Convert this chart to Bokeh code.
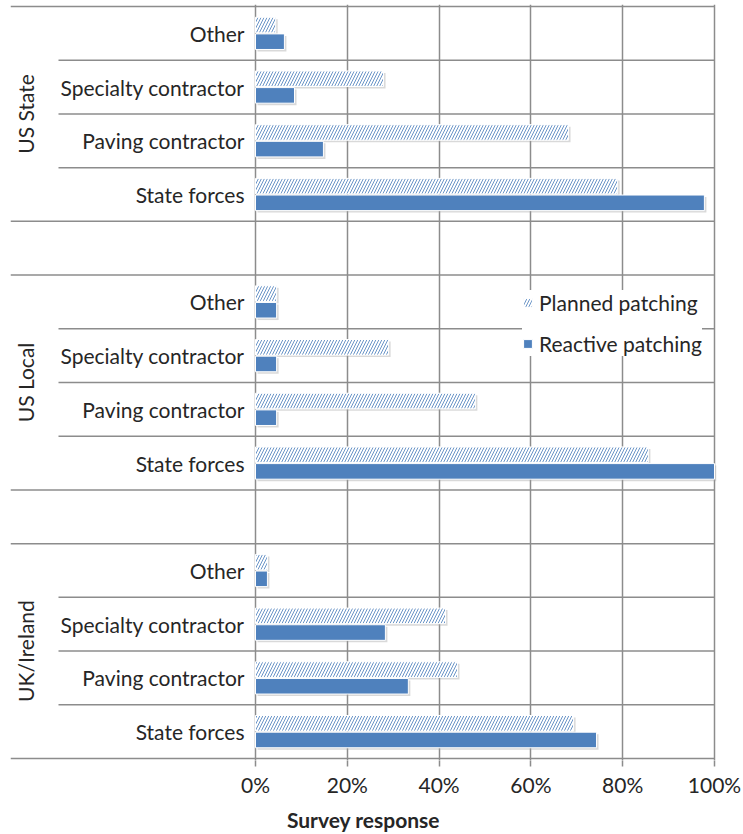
import math
from bokeh.plotting import figure
from bokeh.models import (Range1d, FixedTicker, PrintfTickFormatter, Legend,
                          LegendItem, ColumnDataSource)
from bokeh.core.properties import value
from bokeh.embed import file_html
from bokeh.resources import INLINE

# ---------------- data (percent of survey responses) ----------------
groups = ["US State", "US Local", "UK/Ireland"]
categories = ["Other", "Specialty contractor", "Paving contractor", "State forces"]

planned_us_state = [4.4, 27.9, 68.2, 78.9]
reactive_us_state = [6.3, 8.5, 14.8, 97.8]

planned_us_local = [4.6, 29.0, 47.9, 85.6]
reactive_us_local = [4.6, 4.6, 4.6, 100.0]

planned_uk_ireland = [2.6, 41.4, 44.0, 69.3]
reactive_uk_ireland = [2.6, 28.3, 33.3, 74.3]

x_ticks = [0, 20, 40, 60, 80, 100]

planned = [planned_us_state, planned_us_local, planned_uk_ireland]
reactive = [reactive_us_state, reactive_us_local, reactive_uk_ireland]

# ---------------- layout constants ----------------
FONT = "Lato"
FS = "21px"
TXT = "#262626"
BLUE = "#4F81BD"
GRID = "#8c8c8c"
PX_PER_PCT = 4.59          # pixels per percent
LEFT_PX = 245              # label area width (frame left -> 0%)
SHORT_PX = 197             # width of within-group separator in label area
ROW_PX = 53.79
ROWS_PER_GROUP = len(categories) + 1   # one empty row between groups
n_rows = ROWS_PER_GROUP * len(groups) - 1

x_start = -LEFT_PX / PX_PER_PCT
x_end = 100 + 2 / PX_PER_PCT
pad_rows = 2 / ROW_PX

p = figure(width=743, height=834, output_backend="svg", toolbar_location=None,
           x_range=Range1d(x_start, x_end),
           y_range=Range1d(n_rows + pad_rows, -pad_rows),
           y_axis_type=None,
           min_border_left=10, min_border_right=27, min_border_top=4,
           min_border_bottom=73)
p.outline_line_color = None
p.background_fill_color = "white"

# vertical grid
p.xgrid.ticker = FixedTicker(ticks=x_ticks)
p.xgrid.grid_line_color = GRID
p.xgrid.grid_line_width = 1.5

# x axis
ax = p.xaxis[0]
ax.ticker = FixedTicker(ticks=x_ticks)
ax.formatter = PrintfTickFormatter(format="%d%%")
ax.axis_line_color = None
ax.major_tick_out = 6
ax.major_tick_in = 0
ax.minor_tick_out = 0
ax.minor_tick_in = 0
ax.major_tick_line_color = GRID
ax.major_tick_line_width = 1.5
ax.major_label_standoff = 5
ax.major_label_text_font = FONT
ax.major_label_text_font_size = FS
ax.major_label_text_color = TXT
ax.axis_label = "Survey response"
ax.axis_label_text_font = FONT
ax.axis_label_text_font_size = FS
ax.axis_label_text_font_style = "bold"
ax.axis_label_text_color = TXT
ax.axis_label_standoff = 7

# horizontal separators
long_y, short_y = [], []
for g in range(len(groups)):
    top = g * ROWS_PER_GROUP
    long_y += [top, top + len(categories)]
    short_y += [top + k for k in range(1, len(categories))]
p.segment(x0=x_start, x1=100, y0=long_y, y1=long_y, line_color=GRID, line_width=1.5)
p.segment(x0=-SHORT_PX / PX_PER_PCT, x1=100, y0=short_y, y1=short_y,
          line_color=GRID, line_width=1.5)

# bars
OFF = 0.155
BH = 0.29
py, pv, ry, rv, label_y, label_t = [], [], [], [], [], []
for g in range(len(groups)):
    for c, cat in enumerate(categories):
        row = g * ROWS_PER_GROUP + c + 0.5
        py.append(row - OFF); pv.append(planned[g][c])
        ry.append(row + OFF); rv.append(reactive[g][c])
        label_y.append(row); label_t.append(cat)

sp = ColumnDataSource(dict(y=py, v=pv))
sr = ColumnDataSource(dict(y=ry, v=rv))

# soft shadows
sh_dy = 2 / ROW_PX
sh_dx = 2 / PX_PER_PCT
p.hbar(y=[y + sh_dy for y in py], left=sh_dx, right=[v + sh_dx for v in pv], height=BH,
       fill_color="#a0a0a0", fill_alpha=0.4, line_color=None)
p.hbar(y=[y + sh_dy for y in ry], left=sh_dx, right=[v + sh_dx for v in rv], height=BH,
       fill_color="#a0a0a0", fill_alpha=0.4, line_color=None)

r_planned = p.hbar(y="y", right="v", left=0, height=BH, source=sp,
                   fill_color="white", hatch_pattern="/", hatch_color=BLUE,
                   hatch_alpha=0.85, hatch_scale=6, hatch_weight=1.0,
                   line_color="white", line_width=1)
r_reactive = p.hbar(y="y", right="v", left=0, height=BH, source=sr,
                    fill_color=BLUE, line_color="white", line_width=1)

# category labels
p.text(x=-11 / PX_PER_PCT, y=label_y, text=label_t, text_align="right",
       text_baseline="middle", text_font=value(FONT), text_font_size=FS,
       text_color=TXT)

# group labels (rotated)
gy = [g * ROWS_PER_GROUP + len(categories) / 2 for g in range(len(groups))]
p.text(x=x_start + 15 / PX_PER_PCT, y=gy, text=groups, angle=math.pi / 2,
       text_align="center", text_baseline="middle", text_font=value(FONT),
       text_font_size=FS, text_color=TXT)

legend = Legend(items=[LegendItem(label="Planned patching", renderers=[r_planned]),
                       LegendItem(label="Reactive patching", renderers=[r_reactive])],
                location=(512, 404))
legend.label_text_font = FONT
legend.label_text_font_size = FS
legend.label_text_color = TXT
legend.label_height = 24
legend.glyph_height = 11
legend.glyph_width = 11
legend.label_standoff = 6
legend.spacing = 16
legend.padding = 7
legend.margin = 0
legend.background_fill_color = "white"
legend.background_fill_alpha = 1
legend.border_line_color = None
p.add_layout(legend, "center")

open("out.html", "w").write(file_html(p, INLINE))
